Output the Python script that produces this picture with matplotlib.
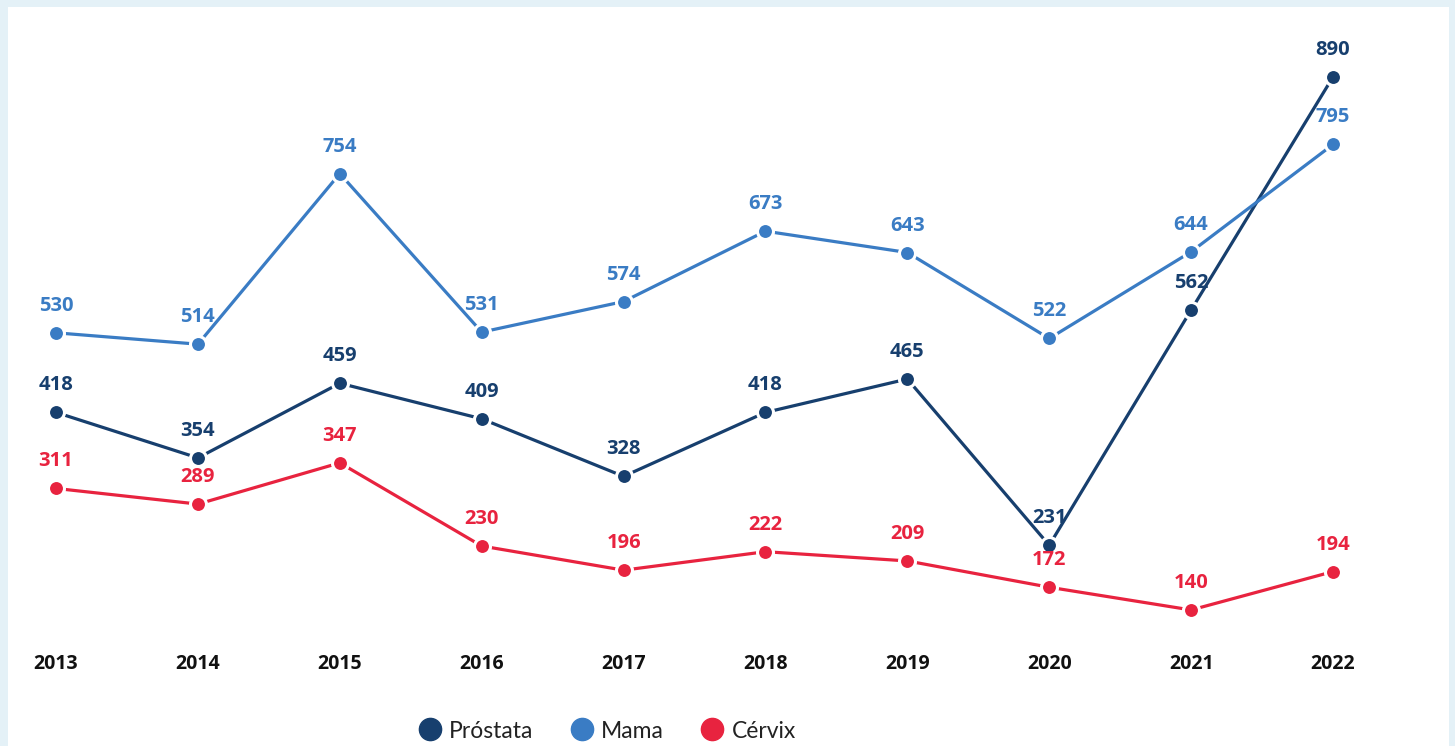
import matplotlib
matplotlib.use("Agg")
import matplotlib.pyplot as plt
from matplotlib.patches import Rectangle
from matplotlib.lines import Line2D

years = [2013, 2014, 2015, 2016, 2017, 2018, 2019, 2020, 2021, 2022]
prostata = [418, 354, 459, 409, 328, 418, 465, 231, 562, 890]
mama = [530, 514, 754, 531, 574, 673, 643, 522, 644, 795]
cervix = [311, 289, 347, 230, 196, 222, 209, 172, 140, 194]
series_names = ["Próstata", "Mama", "Cérvix"]

colors = {"Próstata": "#173f6e", "Mama": "#3a7cc4", "Cérvix": "#e8233f"}

W, H = 1455, 746
fig = plt.figure(figsize=(W / 100, H / 100), dpi=100)
fig.patch.set_facecolor("#e4f1f7")
ax = fig.add_axes([0, 0, 1, 1])
ax.set_facecolor("none")
ax.add_patch(Rectangle((8 / W, 0), (1449 - 8) / W, (746 - 7) / H,
                       transform=fig.transFigure, facecolor="white",
                       edgecolor="none", zorder=0))
ax.set_xlim(2012.605, 2022.860)
ax.set_ylim(-51.4, 998.3)
ax.axis("off")

for name, vals in zip(series_names, [prostata, mama, cervix]):
    c = colors[name]
    ax.plot(years, vals, color=c, lw=2.3, marker="o", markersize=11.5,
            markerfacecolor=c, markeredgecolor="white", markeredgewidth=2.2,
            zorder=3)
    for x, v in zip(years, vals):
        ax.annotate(str(v), (x, v), xytext=(0, 27), textcoords="offset pixels",
                    ha="center", va="center", color=c, fontsize=14.5,
                    fontweight="bold", family="Open Sans", zorder=4)

for x in years:
    ax.text(x, 64, str(x), ha="center", va="center", fontsize=14,
            fontweight="bold", family="Open Sans", color="#111111")

handles = [Line2D([], [], lw=0, marker="o", markersize=16,
                  markerfacecolor=colors[n], markeredgecolor=colors[n])
           for n in series_names]
leg = fig.legend(handles, series_names, ncol=3, loc="center",
                 bbox_to_anchor=(607 / W, 1 - 731 / H), frameon=False,
                 prop={"family": "Lato", "size": 16.5}, handletextpad=0.35,
                 columnspacing=1.6, handlelength=1.0)
for t in leg.get_texts():
    t.set_color("#222222")

fig.savefig("out.png", dpi=100, facecolor=fig.get_facecolor())
